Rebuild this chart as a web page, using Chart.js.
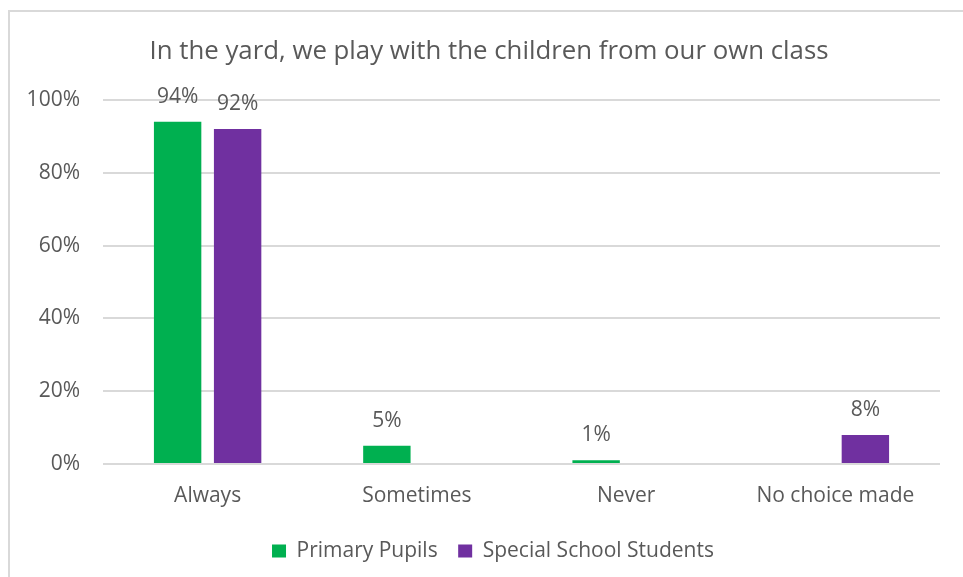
<!DOCTYPE html>
<html>
<head>
<meta charset="utf-8">
<script src="https://cdn.jsdelivr.net/npm/chart.js@4.4.1/dist/chart.umd.min.js"></script>
<style>
  html, body { margin: 0; padding: 0; background: #fff; }
  #wrap { position: relative; width: 963px; height: 577px; }
  #frame { position: absolute; left: 8px; top: 10px; right: -4px; bottom: -4px;
           border-left: 2px solid #d9d9d9; border-top: 2px solid #d9d9d9; }
  canvas { position: absolute; left: 0; top: 0; }
</style>
</head>
<body>
<div id="wrap">
  <div id="frame"></div>
  <canvas id="chart" width="963" height="577"></canvas>
</div>
<script>
const categories = ['Always', 'Sometimes', 'Never', 'No choice made'];
const primaryPupils = [94, 5, 1, null];
const specialSchool = [92, null, null, 8];
const yTicks = [0, 20, 40, 60, 80, 100];

const textColor = '#595959';
const fontFamily = "'Open Sans', 'Liberation Sans', sans-serif";

// draws the value above every bar
const barLabels = {
  id: 'barLabels',
  afterDatasetsDraw(chart) {
    const ctx = chart.ctx;
    ctx.save();
    ctx.fillStyle = textColor;
    ctx.font = '21px ' + fontFamily;
    ctx.textAlign = 'center';
    ctx.textBaseline = 'middle';
    chart.data.datasets.forEach((ds, i) => {
      const meta = chart.getDatasetMeta(i);
      meta.data.forEach((bar, j) => {
        const v = ds.data[j];
        if (v === null || v === undefined) return;
        ctx.fillText(v + '%', bar.x, bar.y - 25);
      });
    });
    ctx.restore();
  }
};

// title and legend sit a little right of the canvas centre in the original
const shiftBlocks = {
  id: 'shiftBlocks',
  afterLayout(chart) {
    if (chart.titleBlock) chart.titleBlock.left = 38;
    if (chart.legend) chart.legend.left = 46;
  }
};

new Chart(document.getElementById('chart'), {
  type: 'bar',
  data: {
    labels: categories,
    datasets: [{
      label: 'Primary Pupils',
      data: primaryPupils,
      backgroundColor: '#00B050',
      categoryPercentage: 0.5735,
      barPercentage: 0.79
    }, {
      label: 'Special School Students',
      data: specialSchool,
      backgroundColor: '#7030A0',
      categoryPercentage: 0.5735,
      barPercentage: 0.79
    }]
  },
  options: {
    responsive: false,
    animation: false,
    layout: { padding: { left: 16, right: 23, top: 36, bottom: 5.5 } },
    plugins: {
      title: {
        display: true,
        text: 'In the yard, we play with the children from our own class',
        color: textColor,
        font: { family: fontFamily, size: 25.8, weight: 'normal' },
        padding: { top: 0, bottom: 33 }
      },
      legend: {
        position: 'bottom',
        labels: {
          color: textColor,
          font: { family: fontFamily, size: 21 },
          boxWidth: 14,
          boxHeight: 13,
          padding: 20.5
        }
      },
      tooltip: { enabled: false }
    },
    scales: {
      x: {
        afterFit(scale) { scale.height = 56; },
        grid: { display: false, drawTicks: false },
        border: { display: false },
        ticks: { color: textColor, font: { family: fontFamily, size: 21 }, padding: 19 }
      },
      y: {
        min: 0,
        max: 100,
        afterBuildTicks(scale) {
          scale.ticks = yTicks.map(v => ({ value: v }));
        },
        afterFit(scale) { scale.width = 87; },
        grid: { color: '#d9d9d9', lineWidth: 2, drawTicks: false },
        border: { display: false },
        ticks: {
          color: textColor,
          font: { family: fontFamily, size: 21 },
          padding: 23,
          callback: v => v + '%'
        }
      }
    }
  },
  plugins: [barLabels, shiftBlocks]
});
</script>
</body>
</html>
